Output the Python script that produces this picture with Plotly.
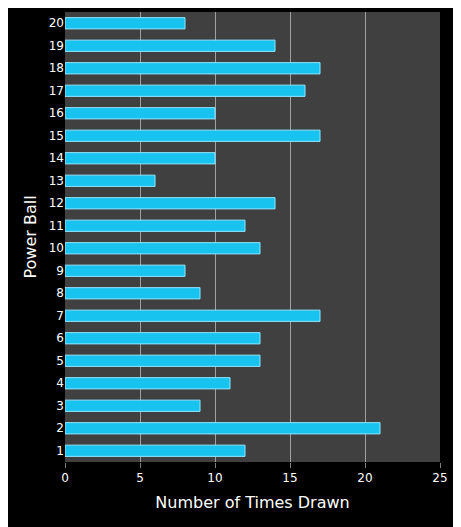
import plotly.graph_objects as go

balls = [str(i) for i in range(1, 21)]
times_drawn = [12, 21, 9, 11, 13, 13, 17, 9, 8, 13, 12, 14, 6, 10, 17, 10, 16, 17, 14, 8]

fig = go.Figure(go.Bar(
    x=times_drawn, y=balls, orientation="h", width=0.5,
    marker=dict(color="#19c3f0", line=dict(color="#8fe6ff", width=1)),
))
fig.update_layout(
    width=461, height=527, paper_bgcolor="black", plot_bgcolor="#404040",
    margin=dict(l=57, r=29, t=4, b=73, autoexpand=False), showlegend=False,
    font=dict(family="DejaVu Sans", color="white", size=12),
    bargap=0.5,
)
fig.update_xaxes(range=[0, 25], dtick=5, showgrid=True, gridcolor="#a0a0a0", gridwidth=1,
                 zeroline=False, ticks="outside", tickcolor="#808080",
                 title=dict(text="Number of Times Drawn", font=dict(size=16), standoff=12))
fig.update_yaxes(categoryorder="array", categoryarray=balls, showgrid=False,
                 title=dict(text="Power Ball", font=dict(size=16), standoff=8))
fig.write_html("out.html")
